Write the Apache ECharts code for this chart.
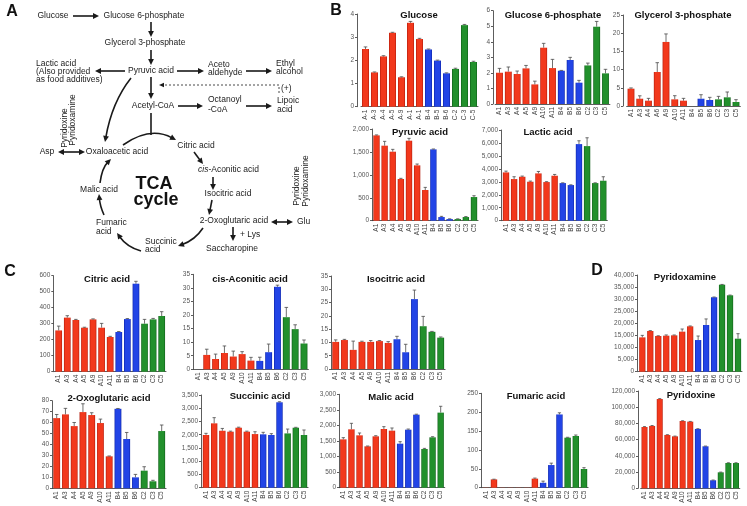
<!DOCTYPE html>
<html><head><meta charset="utf-8">
<script src="https://cdn.jsdelivr.net/npm/echarts@6/dist/echarts.min.js"></script>
<style>html,body{margin:0;padding:0;background:#fff}#c{width:747px;height:506px}</style>
</head><body><div id="c"></div>
<script>
// ---------------- DATA ----------------
const stdCats = ['A1','A3','A4','A5','A9','A10','A11','B4','B5','B6','C2','C3','C5'];
const glucoseCats = ['A-1','A-3','A-4','A-5','A-9','A-1','A-1','B-4','B-5','B-6','C-2','C-3','C-5'];
const gly3pCats = ['A1','A3','A4','A6','A9','A10','A11','B4','B5','B6','C2','C3','C5'];
const groups = ['A','A','A','A','A','A','A','B','B','B','C','C','C'];

const glucoseVals = [2.49,1.48,2.17,3.19,1.27,3.62,2.92,2.47,1.99,1.44,1.63,3.52,1.93];
const glucoseErr  = [0.09,0.02,0.03,0.02,0.02,0.06,0.03,0.02,0.02,0.02,0.03,0.03,0.03];
const g6pVals = [2.01,2.08,1.93,2.29,1.26,3.62,2.31,2.14,2.83,1.37,2.48,4.97,1.97];
const g6pErr  = [0.28,0.3,0.19,0.19,0.21,0.28,0.56,0.02,0.17,0.15,0.15,0.34,0.26];
const gly3pVals = [4.76,2.0,1.46,9.34,17.6,1.83,1.46,0,2.0,1.65,1.83,2.38,1.1];
const gly3pErr  = [0.2,0.8,0.64,2.56,2.2,1.0,0.64,0,1.1,0.73,0.82,1.47,0.64];
const pyruvicVals = [1861,1636,1505,909,1745,1207,669,1556,80,36,36,80,516];
const pyruvicErr  = [10,95,51,15,51,29,58,8,15,5,5,10,29];
const lacticVals = [3727,3214,3393,3007,3650,2982,3470,2904,2750,5912,5757,2904,3084];
const lacticErr  = [100,180,50,50,150,30,100,20,20,257,643,20,308];
const citricVals = [258,338,323,275,327,275,217,248,329,550,300,327,348];
const citricErr  = [27,12,4,3,3,27,4,3,3,15,27,6,27];
const cisVals = [0,5.3,3.8,6.0,4.7,5.6,3.2,3.1,6.3,30.4,19.2,14.8,9.5];
const cisErr  = [0,2.1,1.8,2.6,2.0,0.9,1.2,1.35,3.0,0.6,3.6,1.6,1.3];
const isoVals = [10.2,10.9,7.2,10.2,10.2,10.5,9.8,11.2,6.3,26.3,16.1,14.0,11.8];
const isoErr  = [0.75,0.25,3.3,0.25,0.5,0.2,0.5,1.1,3.0,3.4,3.7,0.15,0.25];
const pyridoxamineVals = [14200,16840,14770,14900,15040,16560,18770,13100,19320,30800,36000,31600,13660];
const pyridoxamineErr  = [830,150,100,300,150,1100,150,1660,2500,100,100,100,2070];
const oxoVals = [64.1,67.5,56.8,69.6,66.9,59.6,29.2,72.6,45,10,16.1,6.4,52.3];
const oxoErr  = [3.3,5.5,3.3,7.6,2.1,3.6,0.3,0.3,6,2.7,3.6,0.9,5.5];
const succVals = [1990,2430,2150,2115,2265,2115,2025,2015,1990,3225,2050,2265,1990];
const succErr  = [63,214,88,20,20,20,88,76,50,20,164,15,189];
const malicVals = [1553,1875,1682,1329,1650,1886,1832,1414,1864,2346,1243,1618,2411];
const malicErr  = [54,193,75,10,20,75,86,64,20,15,20,20,204];
const fumaricVals = [0.5,22,0.5,0.5,0.5,0.5,24,13,60,194,132.5,137,49.5];
const fumaricErr  = [0,0.5,0,0,0,0,1.5,4.4,5,4.4,1,2.5,3.5];
const pyridoxineVals = [75600,76900,110100,65800,64100,83000,82200,73200,51800,9900,19700,31200,31200];
const pyridoxineErr  = [500,500,500,300,300,300,300,300,300,300,300,300,300];

// ---------------- LAYOUT ----------------
const panels = [
 {title:'Glucose', cats:glucoseCats, vals:glucoseVals, err:glucoseErr, max:4, step:1, ax:357, c0:365.5, c12:473.5, top:14, zero:106.7, tx:419, ty:15},
 {title:'Glucose 6-phosphate', cats:stdCats, vals:g6pVals, err:g6pErr, max:6, step:1, ax:493, c0:499.5, c12:605.5, top:10.7, zero:104, tx:553, ty:15},
 {title:'Glycerol 3-phosphate', cats:gly3pCats, vals:gly3pVals, err:gly3pErr, max:25, step:5, ax:623, c0:631, c12:736, top:15, zero:106, tx:683, ty:15},
 {title:'Pyruvic acid', cats:stdCats, vals:pyruvicVals, err:pyruvicErr, max:2000, step:500, ax:372, c0:376.5, c12:474, top:129, zero:220.7, tx:420, ty:132},
 {title:'Lactic acid', cats:stdCats, vals:lacticVals, err:lacticErr, max:7000, step:1000, ax:501, c0:506, c12:603.3, top:130, zero:220.7, tx:548, ty:132},
 {title:'Citric acid', cats:stdCats, vals:citricVals, err:citricErr, max:600, step:100, ax:53.3, c0:58.7, c12:161.7, top:275.7, zero:371.7, tx:107, ty:279},
 {title:'cis-Aconitic acid', cats:stdCats, vals:cisVals, err:cisErr, max:35, step:5, ax:193, c0:197.9, c12:304, top:274.3, zero:369.3, tx:250, ty:279},
 {title:'Isocitric acid', cats:stdCats, vals:isoVals, err:isoErr, max:35, step:5, ax:331, c0:335.7, c12:440.7, top:276, zero:369, tx:396, ty:279},
 {title:'Pyridoxamine', cats:stdCats, vals:pyridoxamineVals, err:pyridoxamineErr, max:40000, step:5000, ax:637, c0:642.3, c12:738, top:275, zero:371.7, tx:685, ty:277},
 {title:'2-Oxoglutaric acid', cats:stdCats, vals:oxoVals, err:oxoErr, max:80, step:10, ax:52, c0:56.7, c12:161.7, top:400.7, zero:488.3, tx:109, ty:398},
 {title:'Succinic acid', cats:stdCats, vals:succVals, err:succErr, max:3500, step:500, ax:201, c0:206, c12:304, top:395, zero:487.7, tx:260, ty:396},
 {title:'Malic acid', cats:stdCats, vals:malicVals, err:malicErr, max:3000, step:500, ax:339, c0:343.3, c12:440.7, top:394.3, zero:487.7, tx:391, ty:397},
 {title:'Fumaric acid', cats:stdCats, vals:fumaricVals, err:fumaricErr, max:250, step:50, ax:481, c0:485.8, c12:584, top:393.3, zero:487.7, tx:536, ty:396},
 {title:'Pyridoxine', cats:stdCats, vals:pyridoxineVals, err:pyridoxineErr, max:120000, step:20000, ax:638, c0:644.5, c12:736, top:391, zero:488.3, tx:691, ty:395}
];

const FONT = '"Liberation Sans", Arial, Helvetica, sans-serif';
function grad(dark, mid){
  return new echarts.graphic.LinearGradient(0,0,1,0,[
    {offset:0,color:dark},{offset:0.18,color:mid},{offset:0.82,color:mid},{offset:1,color:dark}]);
}
const groupColor = {
  A: grad('#b31c0c','#f2381c'),
  B: grad('#0d24a8','#2244e6'),
  C: grad('#0f5e18','#22902c')
};
const commas = v => String(v).replace(/\B(?=(\d{3})+(?!\d))/g, ',');

function errRender(params, api){
  const x = api.value(0), v = api.value(1), e = api.value(2);
  if (!e) return;
  const p0 = api.coord([x, v]);
  const p1 = api.coord([x, v + e]);
  const w = api.size([1, 0])[0] * 0.2;
  const st = {stroke:'#4a4a4a', lineWidth:0.8};
  return {type:'group', children:[
    {type:'line', shape:{x1:p0[0],y1:p0[1],x2:p1[0],y2:p1[1]}, style:st},
    {type:'line', shape:{x1:p1[0]-w,y1:p1[1],x2:p1[0]+w,y2:p1[1]}, style:st}
  ]};
}

const grids=[], xAxes=[], yAxes=[], series=[], graphics=[];
panels.forEach((p,i)=>{
  const band = (p.c12 - p.c0)/12;
  const left = p.c0 - band/2;
  grids.push({left:left, top:p.top, width:band*13, height:p.zero-p.top});
  xAxes.push({gridIndex:i, type:'category', data:p.cats,
    axisLine:{lineStyle:{color:'#333',width:0.8}}, axisTick:{show:false},
    axisLabel:{interval:0, rotate:90, fontSize:6.5, color:'#444', margin:3, fontFamily:FONT}});
  yAxes.push({gridIndex:i, type:'value', min:0, max:p.max, interval:p.step, offset:left-p.ax,
    axisLine:{show:true, lineStyle:{color:'#333',width:0.8}},
    axisTick:{show:true, length:2, lineStyle:{color:'#333',width:0.8}},
    splitLine:{show:false},
    axisLabel:{fontSize:6.5, color:'#555', margin:3, fontFamily:FONT, formatter:commas}});
  series.push({type:'bar', xAxisIndex:i, yAxisIndex:i, barCategoryGap:'22%',
    data:p.vals.map((v,j)=>({value:v, itemStyle:{color:groupColor[groups[j]]}})),
    animation:false});
  series.push({type:'custom', xAxisIndex:i, yAxisIndex:i, renderItem:errRender, z:5,
    data:p.vals.map((v,j)=>[j, v, p.err[j]]), animation:false});
  graphics.push({type:'text', x:p.tx, y:p.ty, style:{text:p.title, font:'bold 9.5px '+FONT, fill:'#111', textAlign:'center', textVerticalAlign:'middle'}});
});

// ---------------- PATHWAY (panel A) ----------------
const INK = '#1a1a1a';
function T(x,y,s,align,extra){
  return Object.assign({type:'text', x:x, y:y, style:{text:s, font:'8.5px '+FONT, fill:'#222', textAlign:align||'center', textVerticalAlign:'middle'}}, extra||{});
}
function head(x,y,ang,L,W){
  L=L||6; W=W||2.9;
  const bx=x-L*Math.cos(ang), by=y-L*Math.sin(ang);
  const nx=-Math.sin(ang)*W, ny=Math.cos(ang)*W;
  return {type:'polygon', shape:{points:[[x,y],[bx+nx,by+ny],[bx-nx,by-ny]]}, style:{fill:INK}};
}
function arrow(x1,y1,x2,y2,both){
  const ang=Math.atan2(y2-y1,x2-x1), c=Math.cos(ang), s=Math.sin(ang), k=4.5;
  const sx = both? x1+k*c : x1, sy = both? y1+k*s : y1;
  const els=[{type:'line', shape:{x1:sx,y1:sy,x2:x2-k*c,y2:y2-k*s}, style:{stroke:INK,lineWidth:1.6}}, head(x2,y2,ang)];
  if(both) els.push(head(x1,y1,ang+Math.PI));
  return els;
}
function curve(x1,y1,cx,cy,x2,y2){
  const ang=Math.atan2(y2-cy,x2-cx), k=4.5;
  return [{type:'bezierCurve', shape:{x1:x1,y1:y1,cpx1:cx,cpy1:cy,x2:x2-k*Math.cos(ang),y2:y2-k*Math.sin(ang)}, style:{stroke:INK,lineWidth:1.6,fill:'none'}}, head(x2,y2,ang)];
}
const path = [];
path.push({type:'text', x:12, y:12, style:{text:'A', font:'bold 16px '+FONT, fill:'#111', textAlign:'center', textVerticalAlign:'middle'}});
path.push({type:'text', x:336, y:11, style:{text:'B', font:'bold 16px '+FONT, fill:'#111', textAlign:'center', textVerticalAlign:'middle'}});
path.push({type:'text', x:10, y:272, style:{text:'C', font:'bold 16px '+FONT, fill:'#111', textAlign:'center', textVerticalAlign:'middle'}});
path.push({type:'text', x:597, y:271, style:{text:'D', font:'bold 16px '+FONT, fill:'#111', textAlign:'center', textVerticalAlign:'middle'}});

path.push(T(53,16,'Glucose'));
path.push(...arrow(73,16,99,16));
path.push(T(144,16,'Glucose 6-phosphate'));
path.push(...arrow(151,22,151,37));
path.push(T(145,43,'Glycerol 3-phosphate'));
path.push(...arrow(151,50,151,65));
path.push(T(151,71,'Pyruvic acid'));
path.push(...arrow(125,71,95,71));
path.push(T(36,64,'Lactic acid','left'));
path.push(T(36,72,'(Also provided','left'));
path.push(T(36,80,'as food additives)','left'));
path.push(...arrow(177,71,204,71));
path.push(T(208,65,'Aceto','left'));
path.push(T(208,73,'aldehyde','left'));
path.push(...arrow(246,71,272,71));
path.push(T(276,64,'Ethyl','left'));
path.push(T(276,72,'alcohol','left'));
path.push({type:'polyline', shape:{points:[[279,93],[279,85],[164,85]]}, style:{stroke:INK,lineWidth:0.8,lineDash:[2,2],fill:'none'}});
path.push(head(159,85,Math.PI,5,2.2));
path.push(T(281,89,'(+)','left'));
path.push(...arrow(151,77,151,99));
path.push(T(153,106,'Acetyl-CoA'));
path.push(...arrow(178,106,203,106));
path.push(T(208,100,'Octanoyl','left'));
path.push(T(208,110,'-CoA','left'));
path.push(...arrow(246,106,272,106));
path.push(T(277,101,'Lipoic','left'));
path.push(T(277,110,'acid','left'));
path.push(...curve(131,78,112,102,105,142));
path.push({type:'line', shape:{x1:151,y1:113,x2:151,y2:135}, style:{stroke:INK,lineWidth:1.6}});
path.push(...curve(123,145,150,126,176,140));
path.push(T(117,152,'Oxaloacetic acid'));
path.push(T(47,152,'Asp'));
path.push(...arrow(58,152,85,152,true));
path.push(T(65,128,'Pyridoxine','center',{rotation:Math.PI/2}));
path.push(T(73,120,'Pyridoxamine','center',{rotation:Math.PI/2}));
path.push(T(196,146,'Citric acid'));
path.push(...arrow(194,152,203,164));
path.push({type:'text', x:198, y:170, style:{rich:{i:{font:'italic 8.5px '+FONT, fill:'#222'}, n:{font:'8.5px '+FONT, fill:'#222'}}, text:'{i|cis}{n|-Aconitic acid}', textAlign:'left', textVerticalAlign:'middle'}});
path.push(...arrow(213,177,213,190));
path.push(T(228,194,'Isocitric acid'));
path.push(...arrow(212,200,209,215));
path.push(T(234,221,'2-Oxoglutaric acid'));
path.push(...arrow(271,222,293,222,true));
path.push(T(297,222,'Glu','left'));
path.push(T(297,186,'Pyridoxine','center',{rotation:Math.PI/2}));
path.push(T(306,181,'Pyridoxamine','center',{rotation:Math.PI/2}));
path.push(...arrow(233,227,233,241));
path.push(T(240,235,'+ Lys','left'));
path.push(T(232,249,'Saccharopine'));
path.push(...curve(203,228,195,240,178,246));
path.push(T(145,242,'Succinic','left'));
path.push(T(145,250,'acid','left'));
path.push(...curve(141,251,127,247,117,233));
path.push(T(96,223,'Fumaric','left'));
path.push(T(96,232,'acid','left'));
path.push(...curve(104,215,100,206,99,194));
path.push(T(99,190,'Malic acid'));
path.push(...curve(100,183,102,168,111,159));
path.push({type:'text', x:154, y:184, style:{text:'TCA', font:'bold 18px '+FONT, fill:'#111', textAlign:'center', textVerticalAlign:'middle'}});
path.push({type:'text', x:156, y:200, style:{text:'cycle', font:'bold 18px '+FONT, fill:'#111', textAlign:'center', textVerticalAlign:'middle'}});

const chart = echarts.init(document.getElementById('c'), null, {renderer:'canvas'});
chart.setOption({
  backgroundColor:'#fff',
  animation:false,
  grid:grids, xAxis:xAxes, yAxis:yAxes, series:series,
  graphic: graphics.concat(path)
});
</script></body></html>
